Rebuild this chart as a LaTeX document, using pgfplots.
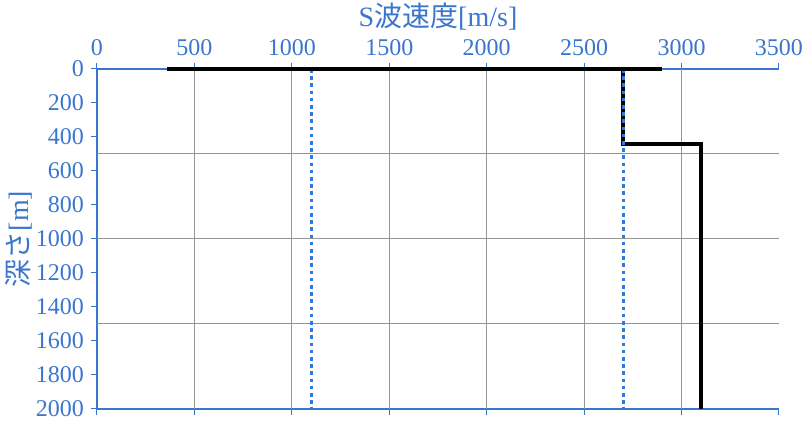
\documentclass[border=0pt]{standalone}
\usepackage{pgfplots}
\pgfplotsset{compat=1.18}
\usepackage{fontspec}
\setmainfont{Liberation Serif}
\newfontfamily\cjk{Noto Sans CJK JP}

\definecolor{axblue}{RGB}{58,118,206}
\definecolor{dotblue}{RGB}{50,120,220}
\definecolor{gridgray}{RGB}{150,150,150}

\begin{document}
\begin{tikzpicture}
\pgfplotsset{
	common/.style={
		scale only axis,
		width=341pt, height=170pt,
		xmin=0, xmax=3500,
		ymin=0, ymax=2000,
		y dir=reverse,
		tick align=outside,
		major tick length=3pt,
		every tick/.style={axblue, line width=0.5pt},
		axis line style={axblue, line width=0.7pt},
		/pgf/number format/assume math mode=true,
		/pgf/number format/1000 sep={},
		tick label style={font=\fontsize{12}{14}\selectfont, text=axblue},
	}
}
% bottom line with ticks, no labels
\begin{axis}[common,
	axis x line*=bottom, axis y line=none,
	xtick={0,500,...,3500}, xticklabels={},
	ytick=\empty,
]
\end{axis}

\begin{axis}[common,
	clip=false,
	axis x line*=top, axis y line*=left,
	xtick pos=upper, xticklabel pos=upper,
	ytick pos=left,
	xtick={0,500,...,3500},
	ytick={0,200,...,2000},
	extra x ticks={500,1000,1500,2000,2500,3000},
	extra x tick labels={},
	extra x tick style={grid=major, major tick length=0pt},
	extra y ticks={500,1000,1500},
	extra y tick labels={},
	extra y tick style={grid=major, major tick length=0pt},
	major grid style={gridgray, line width=0.5pt},
	xlabel={S{\cjk 波速度}[m/s]},
	ylabel={{\cjk 深さ}[m]},
	label style={font=\fontsize{14}{16}\selectfont, text=axblue},
	xlabel style={at={(axis description cs:0.5,1)}, anchor=center, yshift=26pt},
	ylabel style={at={(axis description cs:-0.114,0.5)}, anchor=center},
]
\addplot [black, line width=2pt] coordinates {(2700,0) (2700,440) (3100,440) (3100,2000)};
\addplot [dotblue, line width=1.6pt, dash pattern=on 1.8pt off 1.8pt] coordinates {(1100,0) (1100,2000)};
\addplot [dotblue, line width=1.6pt, dash pattern=on 1.8pt off 1.8pt] coordinates {(2700,0) (2700,2000)};
\addplot [black, line width=2pt] coordinates {(360,0) (2900,0)};
\end{axis}
\pgfresetboundingbox
\path[use as bounding box] (-48.5pt,-8.5pt) rectangle (356.5pt,204.5pt);
\end{tikzpicture}
\end{document}
